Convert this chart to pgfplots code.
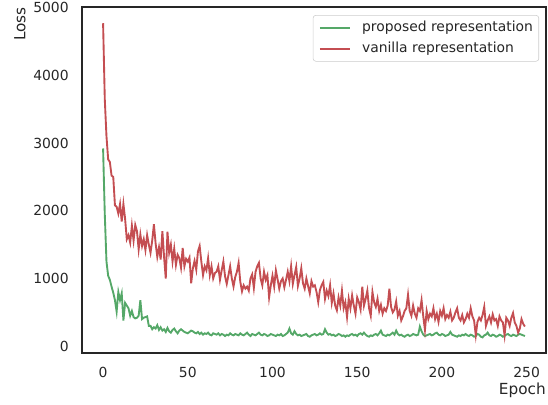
\documentclass[border=0pt]{standalone}
\usepackage{fontspec}
\setmainfont{DejaVu Sans}
\usepackage{pgfplots}
\pgfplotsset{compat=1.18}
\definecolor{sbgreen}{HTML}{55A868}
\definecolor{sbred}{HTML}{C44E52}
\definecolor{axgray}{HTML}{262626}

\begin{document}
\begin{tikzpicture}
\begin{axis}[
  name=ax,
  scale only axis,
  width=334.1pt, height=249.1pt,
  xmin=-12.45, xmax=261.45,
  ymin=-100, ymax=5010,
  xtick={0,50,...,250},
  ytick={0,1000,...,5000},
  major tick length=0pt,
  axis line style={axgray, line width=0.9pt},
  tick label style={font=\normalsize, text=axgray},
  /pgf/number format/assume math mode=true,
  /pgf/number format/set thousands separator={},
  yticklabel style={inner sep=0pt, xshift=-9.4pt},
  xticklabel style={inner sep=0pt, yshift=-10pt},
  xlabel={Epoch},
  ylabel={Loss},
  xlabel style={at={(axis description cs:1,-0.086)}, anchor=north east, inner sep=0pt,
    text=axgray, font=\fontsize{11}{13}\selectfont},
  ylabel style={at={(axis description cs:-0.134,1)}, anchor=east, inner sep=0pt,
    text=axgray, font=\fontsize{11}{13}\selectfont},
  legend cell align=left,
  legend image code/.code={\draw[#1] (0pt,0pt) -- (21.6pt,0pt);},
  legend style={at={(1,1)}, anchor=north east, xshift=-5pt, yshift=-5.8pt,
    draw=black!20, rounded corners=2pt, fill=white, fill opacity=0.8, text opacity=1,
    font=\normalsize, text=axgray, inner xsep=4.2pt, inner ysep=2.35pt, row sep=2.4pt,
    nodes={inner xsep=0pt, inner ysep=1.5pt, text height=7.6pt, text depth=2.4pt},
    /tikz/every odd column/.append style={column sep=8.1pt}},
]

\addplot[sbgreen, line width=1.35pt] coordinates {
(0,2920)(1,1950)(2,1250)(3,1040)(4,980)(5,880)(6,790)(7,680)(8,510)(9,800)
(10,680)(11,780)(12,380)(13,640)(14,600)(15,560)(16,450)(17,520)(18,430)(19,410)
(20,420)(21,450)(22,680)(23,400)(24,420)(25,430)(26,440)(27,300)(28,300)(29,250)
(30,280)(31,260)(32,310)(33,240)(34,280)(35,230)(36,250)(37,210)(38,270)(39,220)
(40,200)(41,240)(42,260)(43,220)(44,190)(45,230)(46,250)(47,230)(48,210)(49,200)
(50,190)(51,210)(52,230)(53,220)(54,200)(55,190)(56,210)(57,180)(58,200)(59,170)
(60,190)(61,180)(62,200)(63,170)(64,160)(65,190)(66,180)(67,170)(68,190)(69,160)
(70,180)(71,170)(72,150)(73,170)(74,160)(75,190)(76,170)(77,160)(78,180)(79,170)
(80,160)(81,190)(82,170)(83,160)(84,180)(85,200)(86,170)(87,150)(88,180)(89,170)
(90,160)(91,180)(92,200)(93,170)(94,160)(95,180)(96,170)(97,150)(98,160)(99,180)
(100,170)(101,160)(102,150)(103,170)(104,160)(105,180)(106,150)(107,160)(108,180)(109,200)
(110,260)(111,190)(112,170)(113,220)(114,180)(115,160)(116,170)(117,150)(118,160)(119,170)
(120,180)(121,150)(122,140)(123,160)(124,170)(125,180)(126,160)(127,170)(128,190)(129,170)
(130,180)(131,250)(132,200)(133,170)(134,180)(135,160)(136,170)(137,150)(138,160)(139,180)
(140,170)(141,150)(142,160)(143,140)(144,160)(145,150)(146,170)(147,180)(148,160)(149,170)
(150,150)(151,180)(152,190)(153,170)(154,200)(155,170)(156,150)(157,140)(158,160)(159,150)
(160,170)(161,180)(162,160)(163,190)(164,230)(165,170)(166,160)(167,150)(168,170)(169,160)
(170,180)(171,200)(172,170)(173,230)(174,180)(175,160)(176,170)(177,150)(178,140)(179,160)
(180,170)(181,150)(182,160)(183,180)(184,170)(185,160)(186,170)(187,290)(188,220)(189,170)
(190,150)(191,160)(192,170)(193,180)(194,160)(195,170)(196,190)(197,200)(198,170)(199,160)
(200,180)(201,170)(202,150)(203,160)(204,170)(205,210)(206,170)(207,160)(208,150)(209,140)
(210,160)(211,150)(212,170)(213,160)(214,180)(215,160)(216,150)(217,170)(218,160)(219,140)
(220,150)(221,180)(222,170)(223,140)(224,130)(225,160)(226,170)(227,200)(228,160)(229,150)
(230,170)(231,160)(232,140)(233,150)(234,170)(235,160)(236,140)(237,150)(238,170)(239,180)
(240,160)(241,150)(242,170)(243,160)(244,150)(245,170)(246,180)(247,170)(248,160)(249,150)
};
\addlegendentry{proposed representation}

\addplot[sbred, line width=1.35pt] coordinates {
(0,4770)(1,3650)(2,3100)(3,2760)(4,2720)(5,2520)(6,2500)(7,2080)(8,2060)(9,1960)
(10,2100)(11,1840)(12,2100)(13,1880)(14,1580)(15,1640)(16,1530)(17,1780)(18,1560)(19,1790)
(20,1700)(21,1430)(22,1650)(23,1480)(24,1580)(25,1420)(26,1640)(27,1500)(28,1380)(29,1560)
(30,1800)(31,1520)(32,1320)(33,1460)(34,1280)(35,1700)(36,1320)(37,1000)(38,1690)(39,1380)
(40,1500)(41,1250)(42,1440)(43,1200)(44,1350)(45,1300)(46,1160)(47,1450)(48,1180)(49,1290)
(50,1250)(51,1310)(52,930)(53,1150)(54,1260)(55,1130)(56,1400)(57,1480)(58,1250)(59,1050)
(60,1180)(61,1120)(62,1300)(63,1050)(64,1180)(65,1000)(66,1080)(67,1100)(68,1180)(69,980)
(70,1120)(71,1250)(72,1030)(73,920)(74,1050)(75,1180)(76,1000)(77,880)(78,1020)(79,1100)
(80,1230)(81,950)(82,810)(83,900)(84,850)(85,880)(86,820)(87,1000)(88,1060)(89,860)
(90,1100)(91,1180)(92,1230)(93,1000)(94,900)(95,1100)(96,980)(97,1050)(98,720)(99,900)
(100,1040)(101,880)(102,1120)(103,990)(104,850)(105,960)(106,1000)(107,870)(108,980)(109,1100)
(110,960)(111,1180)(112,920)(113,1050)(114,1170)(115,890)(116,1000)(117,1150)(118,930)(119,850)
(120,1000)(121,890)(122,780)(123,960)(124,880)(125,900)(126,800)(127,650)(128,830)(129,900)
(130,950)(131,700)(132,820)(133,740)(134,900)(135,640)(136,780)(137,600)(138,530)(139,720)
(140,600)(141,820)(142,560)(143,650)(144,430)(145,700)(146,560)(147,750)(148,600)(149,480)
(150,720)(151,650)(152,540)(153,880)(154,600)(155,700)(156,820)(157,560)(158,450)(159,800)
(160,650)(161,580)(162,700)(163,520)(164,610)(165,480)(166,560)(167,520)(168,600)(169,850)
(170,580)(171,500)(172,540)(173,660)(174,450)(175,520)(176,380)(177,440)(178,520)(179,560)
(180,760)(181,520)(182,450)(183,600)(184,480)(185,420)(186,560)(187,520)(188,680)(189,440)
(190,240)(191,520)(192,400)(193,480)(194,440)(195,560)(196,400)(197,480)(198,360)(199,520)
(200,450)(201,560)(202,400)(203,460)(204,420)(205,510)(206,380)(207,420)(208,500)(209,560)
(210,420)(211,380)(212,460)(213,350)(214,400)(215,480)(216,420)(217,560)(218,440)(219,380)
(220,160)(221,360)(222,420)(223,380)(224,460)(225,580)(226,300)(227,380)(228,440)(229,350)
(230,470)(231,380)(232,400)(233,300)(234,440)(235,380)(236,350)(237,160)(238,420)(239,380)
(240,300)(241,420)(242,490)(243,350)(244,300)(245,200)(246,260)(247,400)(248,330)(249,290)
};
\addlegendentry{vanilla representation}
\end{axis}
\pgfresetboundingbox
\path[use as bounding box] ([xshift=-59.04pt,yshift=-37.44pt]ax.south west)
  rectangle ([xshift=1.44pt,yshift=5.04pt]ax.north east);
\end{tikzpicture}
\end{document}
